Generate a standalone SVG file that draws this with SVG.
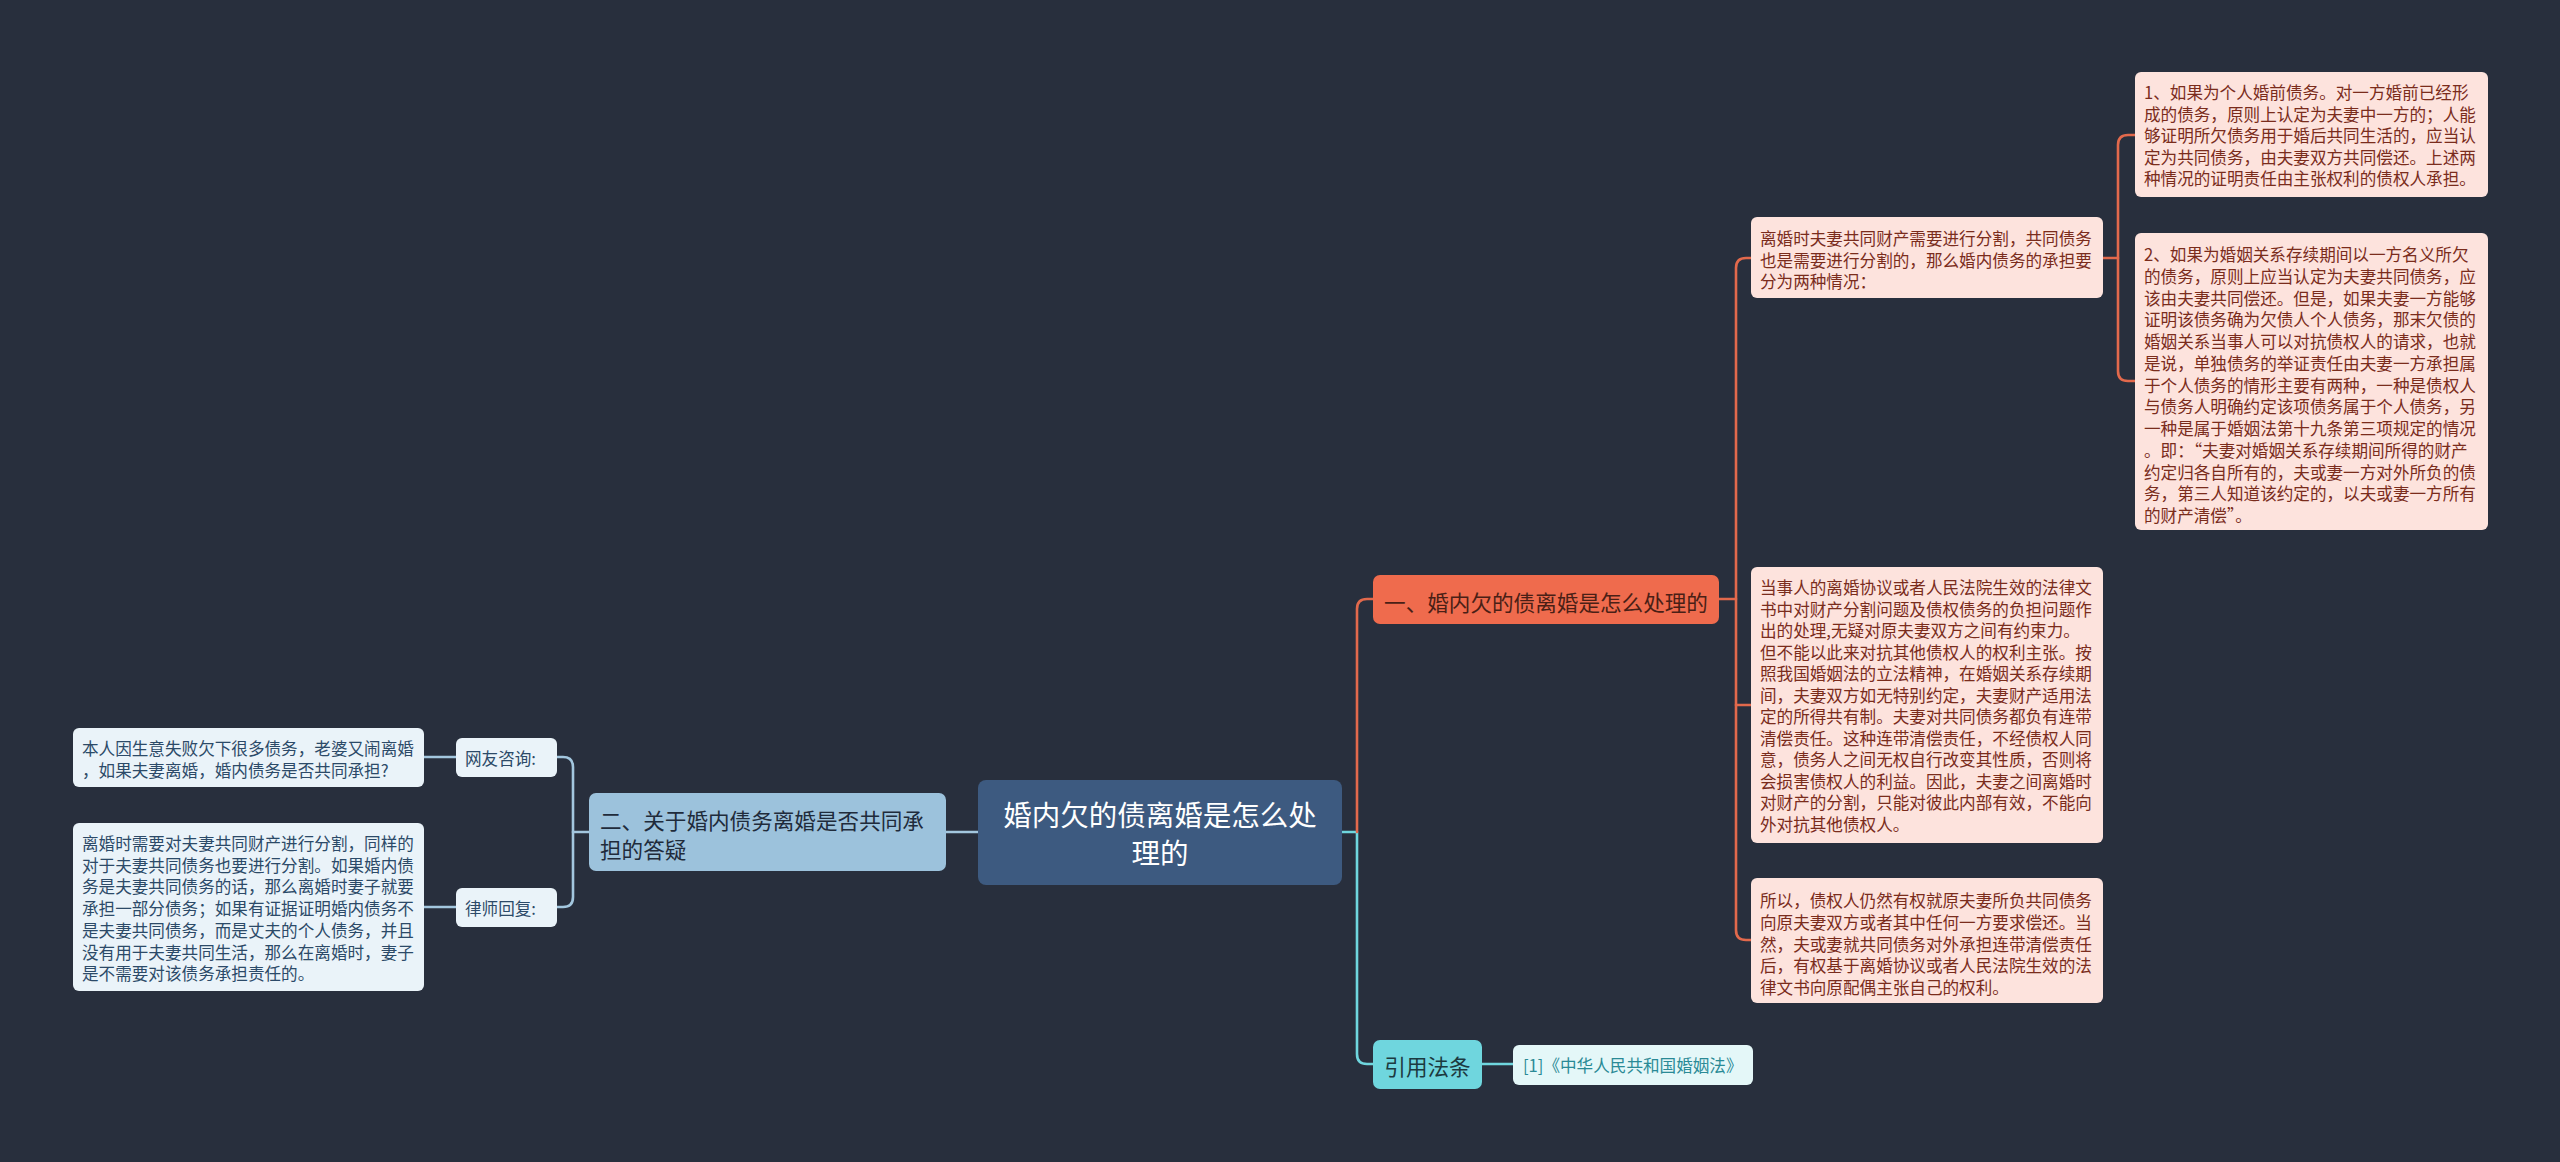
<svg xmlns="http://www.w3.org/2000/svg" width="2560" height="1162" viewBox="0 0 2560 1162">
<style>
text{font-family:'Noto Sans CJK SC','Noto Sans',sans-serif;dominant-baseline:central}
.c{fill:none;stroke-width:2.6;stroke-linecap:round;stroke-linejoin:round}
.or{stroke:#e2694c}
.bl{stroke:#a3c7df}
.cy{stroke:#6fd6de}
.pk rect{fill:#fde3dd}
.pk text{fill:#7a2c1c;font-size:16.6px}
.lb rect{fill:#eaf3f9}
.lb text{fill:#2c4a68;font-size:16.6px}
</style>
<rect width="2560" height="1162" fill="#282f3d"/>
<g id="connectors">
<path class="c cy" d="M1342,832 H1357 V1054 Q1357,1064 1367,1064 H1373"/>
<path class="c or" d="M1357,832 V609 Q1357,599 1367,599 H1373"/>
<path class="c cy" d="M1482,1064 H1513"/>
<path class="c or" d="M1719,599 H1736"/>
<path class="c or" d="M1751,258 H1746 Q1736,258 1736,268 V930 Q1736,940 1746,940 H1751"/>
<path class="c or" d="M1736,705 H1751"/>
<path class="c or" d="M2103,258 H2118"/>
<path class="c or" d="M2135,135 H2128 Q2118,135 2118,145 V371 Q2118,381 2128,381 H2135"/>
<path class="c bl" d="M946,832 H978"/>
<path class="c bl" d="M589,832 H573"/>
<path class="c bl" d="M557,757 H563 Q573,757 573,767 V897 Q573,907 563,907 H557"/>
<path class="c bl" d="M456,757 H424"/>
<path class="c bl" d="M456,907 H424"/>
</g>
<g id="root">
<rect x="978" y="780" width="364" height="105" rx="8" fill="#3d5a80"/>
<text x="1160" y="813" font-size="28.5" fill="#ffffff" text-anchor="middle">婚内欠的债离婚是怎么处</text>
<text x="1160" y="851" font-size="28.5" fill="#ffffff" text-anchor="middle">理的</text>
</g>
<g id="branch1">
<rect x="1373" y="575" width="346" height="49" rx="7" fill="#ef6b4d"/>
<text x="1546" y="601" font-size="21.6" fill="#4a1f16" text-anchor="middle">一、婚内欠的债离婚是怎么处理的</text>
</g>
<g id="nodeA" class="pk">
<rect x="1751" y="217" width="352" height="81" rx="6"/>
<text><tspan x="1760" y="238">离婚时夫妻共同财产需要进行分割，共同债务</tspan><tspan x="1760" y="259.5">也是需要进行分割的，那么婚内债务的承担要</tspan><tspan x="1760" y="281">分为两种情况：</tspan></text>
</g>
<g id="nodeB" class="pk">
<rect x="2135" y="72" width="353" height="125" rx="6"/>
<text><tspan x="2144" y="92">1、如果为个人婚前债务。对一方婚前已经形</tspan><tspan x="2144" y="113.5">成的债务，原则上认定为夫妻中一方的；人能</tspan><tspan x="2144" y="135">够证明所欠债务用于婚后共同生活的，应当认</tspan><tspan x="2144" y="156.5">定为共同债务，由夫妻双方共同偿还。上述两</tspan><tspan x="2144" y="178">种情况的证明责任由主张权利的债权人承担。</tspan></text>
</g>
<g id="nodeC" class="pk">
<rect x="2135" y="233" width="353" height="297" rx="6"/>
<text><tspan x="2144" y="254">2、如果为婚姻关系存续期间以一方名义所欠</tspan><tspan x="2144" y="275.75">的债务，原则上应当认定为夫妻共同债务，应</tspan><tspan x="2144" y="297.5">该由夫妻共同偿还。但是，如果夫妻一方能够</tspan><tspan x="2144" y="319.25">证明该债务确为欠债人个人债务，那末欠债的</tspan><tspan x="2144" y="341">婚姻关系当事人可以对抗债权人的请求，也就</tspan><tspan x="2144" y="362.75">是说，单独债务的举证责任由夫妻一方承担属</tspan><tspan x="2144" y="384.5">于个人债务的情形主要有两种，一种是债权人</tspan><tspan x="2144" y="406.25">与债务人明确约定该项债务属于个人债务，另</tspan><tspan x="2144" y="428">一种是属于婚姻法第十九条第三项规定的情况</tspan><tspan x="2144" y="449.75">。即：“夫妻对婚姻关系存续期间所得的财产</tspan><tspan x="2144" y="471.5">约定归各自所有的，夫或妻一方对外所负的债</tspan><tspan x="2144" y="493.25">务，第三人知道该约定的，以夫或妻一方所有</tspan><tspan x="2144" y="515">的财产清偿”。</tspan></text>
</g>
<g id="nodeD" class="pk">
<rect x="1751" y="567" width="352" height="276" rx="6"/>
<text><tspan x="1760" y="587">当事人的离婚协议或者人民法院生效的法律文</tspan><tspan x="1760" y="608.5">书中对财产分割问题及债权债务的负担问题作</tspan><tspan x="1760" y="630">出的处理,无疑对原夫妻双方之间有约束力。</tspan><tspan x="1760" y="651.5">但不能以此来对抗其他债权人的权利主张。按</tspan><tspan x="1760" y="673">照我国婚姻法的立法精神，在婚姻关系存续期</tspan><tspan x="1760" y="694.5">间，夫妻双方如无特别约定，夫妻财产适用法</tspan><tspan x="1760" y="716">定的所得共有制。夫妻对共同债务都负有连带</tspan><tspan x="1760" y="737.5">清偿责任。这种连带清偿责任，不经债权人同</tspan><tspan x="1760" y="759">意，债务人之间无权自行改变其性质，否则将</tspan><tspan x="1760" y="780.5">会损害债权人的利益。因此，夫妻之间离婚时</tspan><tspan x="1760" y="802">对财产的分割，只能对彼此内部有效，不能向</tspan><tspan x="1760" y="823.5">外对抗其他债权人。</tspan></text>
</g>
<g id="nodeE" class="pk">
<rect x="1751" y="878" width="352" height="125" rx="6"/>
<text><tspan x="1760" y="900">所以，债权人仍然有权就原夫妻所负共同债务</tspan><tspan x="1760" y="921.75">向原夫妻双方或者其中任何一方要求偿还。当</tspan><tspan x="1760" y="943.5">然，夫或妻就共同债务对外承担连带清偿责任</tspan><tspan x="1760" y="965.25">后，有权基于离婚协议或者人民法院生效的法</tspan><tspan x="1760" y="987">律文书向原配偶主张自己的权利。</tspan></text>
</g>
<g id="branch2">
<rect x="589" y="793" width="357" height="78" rx="7" fill="#9cc2dc"/>
<text x="600" y="819" font-size="21.6" fill="#1f2b3b">二、关于婚内债务离婚是否共同承</text>
<text x="600" y="848" font-size="21.6" fill="#1f2b3b">担的答疑</text>
</g>
<g id="label1" class="lb">
<rect x="456" y="738" width="101" height="39" rx="6"/>
<text x="465" y="757.5">网友咨询:</text>
</g>
<g id="label2" class="lb">
<rect x="456" y="888" width="101" height="39" rx="6"/>
<text x="465" y="907.5">律师回复:</text>
</g>
<g id="nodeF" class="lb">
<rect x="73" y="728" width="351" height="59" rx="6"/>
<text><tspan x="82" y="748">本人因生意失败欠下很多债务，老婆又闹离婚</tspan><tspan x="82" y="770">，如果夫妻离婚，婚内债务是否共同承担?</tspan></text>
</g>
<g id="nodeG" class="lb">
<rect x="73" y="823" width="351" height="168" rx="6"/>
<text><tspan x="82" y="843">离婚时需要对夫妻共同财产进行分割，同样的</tspan><tspan x="82" y="864.7">对于夫妻共同债务也要进行分割。如果婚内债</tspan><tspan x="82" y="886.4">务是夫妻共同债务的话，那么离婚时妻子就要</tspan><tspan x="82" y="908.1">承担一部分债务；如果有证据证明婚内债务不</tspan><tspan x="82" y="929.8">是夫妻共同债务，而是丈夫的个人债务，并且</tspan><tspan x="82" y="951.5">没有用于夫妻共同生活，那么在离婚时，妻子</tspan><tspan x="82" y="973.2">是不需要对该债务承担责任的。</tspan></text>
</g>
<g id="branch3">
<rect x="1373" y="1040" width="109" height="49" rx="7" fill="#6fd6de"/>
<text x="1427.5" y="1065" font-size="21.6" fill="#1c3a40" text-anchor="middle">引用法条</text>
</g>
<g id="ref">
<rect x="1513" y="1045" width="240" height="40" rx="6" fill="#e4f7f8"/>
<text x="1523" y="1065" font-size="16.6" fill="#2a8a96">[1]《中华人民共和国婚姻法》</text>
</g>
</svg>
